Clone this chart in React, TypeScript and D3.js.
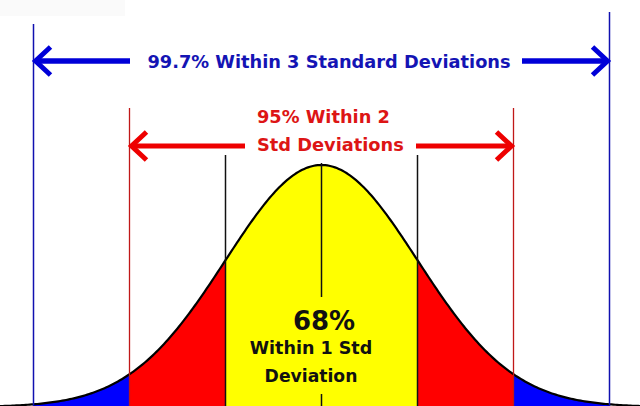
import React from "react";
import * as d3 from "d3";

// Band edges in standard deviations and their fills
const bandStarts = [-3, -2, -1, 1, 2];
const bandEnds = [-2, -1, 1, 2, 3];
const bandColors = ["#0000FF", "#FF0000", "#FFFF00", "#FF0000", "#0000FF"];
const oneSigmaLines = [-1, 1];
const twoSigmaLines = [-2, 2];
const threeSigmaLines = [-3, 3];
const labelOuter = "99.7% Within 3 Standard Deviations";
const labelMiddle = ["95% Within 2", "Std Deviations"];
const labelInner = ["68%", "Within 1 Std", "Deviation"];

const W = 640;
const H = 406;

const x = d3.scaleLinear().domain([-3, 3]).range([33.5, 609.5]);
const y = d3.scaleLinear().domain([0, 1]).range([407, 165]);
const pdf = (z: number) => Math.exp(-0.5 * z * z);

export default function App() {
  const font = "'DejaVu Sans', Verdana, sans-serif";
  const area = d3
    .area<number>()
    .x((d) => x(d))
    .y0(y(0) + 5)
    .y1((d) => y(pdf(d)));
  const line = d3
    .line<number>()
    .x((d) => x(d))
    .y((d) => y(pdf(d)));
  const curvePts = d3.range(-3.5, 3.5001, 0.02);
  const blue = "#0000D8";
  const red = "#EE0000";
  const arrowY1 = 61;
  const arrowY2 = 146;
  const head = (tipX: number, yy: number, dir: number, color: string) => (
    <polyline
      points={`${tipX + dir * 17},${yy - 14} ${tipX + dir * 2},${yy} ${tipX + dir * 17},${yy + 14}`}
      fill="none"
      stroke={color}
      strokeWidth={5}
      strokeLinejoin="miter"
    />
  );
  return (
    <svg
      width={W}
      height={H}
      style={{ position: "absolute", left: 0, top: 0, background: "#fff" }}
    >
      <rect x={0} y={0} width={W} height={H} fill="#ffffff" />
      <rect x={0} y={0} width={125} height={16} fill="#fafafa" />
      {bandStarts.map((s, i) => (
        <path
          key={"b" + i}
          d={area(d3.range(s, bandEnds[i] + 0.0001, 0.01)) || ""}
          fill={bandColors[i]}
        />
      ))}
      <path d={line(curvePts) || ""} fill="none" stroke="#000" strokeWidth={2.2} />
      {threeSigmaLines.map((s, i) => (
        <line
          key={"t" + i}
          x1={x(s)}
          x2={x(s)}
          y1={i === 0 ? 24 : 12}
          y2={H}
          stroke="#1010B0"
          strokeWidth={1.5}
        />
      ))}
      {twoSigmaLines.map((s, i) => (
        <line
          key={"w" + i}
          x1={x(s)}
          x2={x(s)}
          y1={108}
          y2={H}
          stroke="#C01818"
          strokeWidth={1.3}
        />
      ))}
      {oneSigmaLines.map((s, i) => (
        <line
          key={"o" + i}
          x1={x(s)}
          x2={x(s)}
          y1={155}
          y2={H}
          stroke="#111"
          strokeWidth={1.5}
        />
      ))}
      <line x1={x(0)} x2={x(0)} y1={163} y2={297} stroke="#111" strokeWidth={1.5} />
      <line x1={x(0)} x2={x(0)} y1={394} y2={H} stroke="#111" strokeWidth={1.5} />

      {/* 3 sigma arrow */}
      <line x1={x(-3) + 2} x2={130} y1={arrowY1} y2={arrowY1} stroke={blue} strokeWidth={5.5} />
      <line x1={522} x2={x(3) - 2} y1={arrowY1} y2={arrowY1} stroke={blue} strokeWidth={5.5} />
      {head(x(-3), arrowY1, 1, blue)}
      {head(x(3), arrowY1, -1, blue)}
      <text
        x={329}
        y={67.5}
        textAnchor="middle"
        fontFamily={font}
        fontWeight="bold"
        fontSize={17.8}
        fill="#1414B4"
      >
        {labelOuter}
      </text>

      {/* 2 sigma arrow */}
      <line x1={x(-2) + 2} x2={245} y1={arrowY2} y2={arrowY2} stroke={red} strokeWidth={5} />
      <line x1={416} x2={x(2) - 2} y1={arrowY2} y2={arrowY2} stroke={red} strokeWidth={5} />
      {head(x(-2), arrowY2, 1, red)}
      {head(x(2), arrowY2, -1, red)}
      {labelMiddle.map((t, i) => (
        <text
          key={"m" + i}
          x={257}
          y={123 + i * 28}
          fontFamily={font}
          fontWeight="bold"
          fontSize={17.8}
          fill="#DD1515"
        >
          {t}
        </text>
      ))}

      {/* 1 sigma labels */}
      <text
        x={324}
        y={330}
        textAnchor="middle"
        fontFamily={font}
        fontWeight="bold"
        fontSize={26}
        fill="#111"
      >
        {labelInner[0]}
      </text>
      <text
        x={311}
        y={354}
        textAnchor="middle"
        fontFamily={font}
        fontWeight="bold"
        fontSize={17.5}
        fill="#111"
      >
        {labelInner[1]}
      </text>
      <text
        x={311}
        y={382}
        textAnchor="middle"
        fontFamily={font}
        fontWeight="bold"
        fontSize={17.2}
        fill="#111"
      >
        {labelInner[2]}
      </text>
    </svg>
  );
}
